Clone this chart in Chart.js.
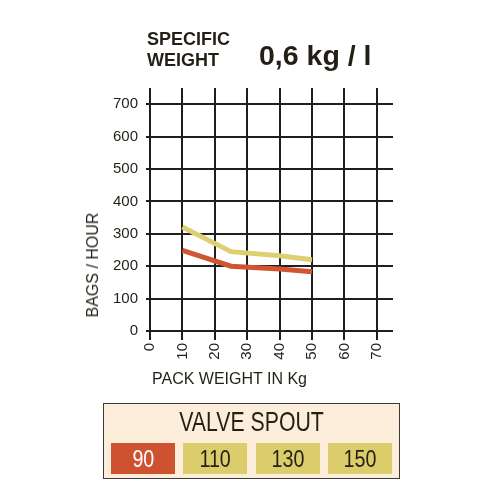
<!DOCTYPE html>
<html>
<head>
<meta charset="utf-8">
<script src="https://cdn.jsdelivr.net/npm/chart.js@4"></script>
<style>
  body { margin: 0; width: 500px; height: 500px; background: #fff; position: relative; overflow: hidden;
         font-family: "Liberation Sans", Arial, sans-serif; color: #231f16; }
  #myChart { position: absolute; left: 0; top: 0; }
  .abs { position: absolute; white-space: nowrap; }
  .spec { left: 147px; top: 29px; font-weight: bold; font-size: 18px; line-height: 20.6px; }
  .dens { left: 259px; top: 39px; font-weight: bold; font-size: 28.5px; line-height: normal; }
  .ytitle { left: 93px; top: 265px; font-size: 16px; transform: translate(-50%, -50%) rotate(-90deg); }
  .xtitle { left: 152px; top: 370px; font-size: 16px; }
  .legend { left: 103px; top: 403px; width: 295px; height: 74px; background: #fdeedc; border: 1.5px solid #3a3a3a; }
  .legend .head { position: absolute; left: 0; right: 0; top: 2px; text-align: center; font-size: 28px;
                  transform: scaleX(0.76); }
  .legend .box { position: absolute; top: 39px; width: 64px; height: 31px; text-align: center; line-height: 31px; }
  .legend .box span { display: inline-block; font-size: 24px; transform: scaleX(0.82); }
</style>
</head>
<body>
<canvas id="myChart" width="500" height="400"></canvas>
<div class="abs spec">SPECIFIC<br>WEIGHT</div>
<div class="abs dens">0,6 kg / l</div>
<div class="abs ytitle">BAGS / HOUR</div>
<div class="abs xtitle">PACK WEIGHT IN Kg</div>
<div class="abs legend" id="legend"><div class="head">VALVE SPOUT</div></div>
<script>
// pack weight (kg) and bags/hour
const packWeight = [10, 25, 40, 50];
const spout90 = [249, 200, 191, 183];
const spout110 = [321, 245, 232, 220];
const spoutLabels = ['90', '110', '130', '150'];
const spoutColors = ['#cf5230', '#dccd6c', '#dccd6c', '#dccd6c'];
const spoutText = ['#ffffff', '#231f16', '#231f16', '#231f16'];

const lineColor = { red: '#d05530', yellow: '#ddd070' };

function pts(ys) {
  return packWeight.map((x, i) => ({ x: x, y: ys[i] }));
}

// legend boxes
const legend = document.getElementById('legend');
const boxLeft = [7, 79, 152, 224];
spoutLabels.forEach((lab, i) => {
  const d = document.createElement('div');
  d.className = 'box';
  d.style.left = boxLeft[i] + 'px';
  d.style.background = spoutColors[i];
  d.style.color = spoutText[i];
  const s = document.createElement('span');
  s.textContent = lab;
  d.appendChild(s);
  legend.appendChild(d);
});

const gridColor = '#1e1e1e';
const tickFont = { family: 'Liberation Sans', size: 15 };

let myChart = document.getElementById('myChart').getContext('2d');
let spoutChart = new Chart(myChart, {
  type: 'line',
  data: {
    datasets: [
      { label: '110 / 130 / 150', data: pts(spout110), borderColor: lineColor.yellow, borderWidth: 5,
        pointRadius: 0, tension: 0, fill: false, borderCapStyle: 'butt' },
      { label: '90', data: pts(spout90), borderColor: lineColor.red, borderWidth: 5,
        pointRadius: 0, tension: 0, fill: false, borderCapStyle: 'butt' }
    ]
  },
  options: {
    responsive: false,
    animation: false,
    layout: { padding: { top: 88, right: 107, left: 0, bottom: 0 } },
    plugins: { legend: { display: false }, tooltip: { enabled: false } },
    scales: {
      x: {
        type: 'linear', min: 0, max: 75,
        border: { display: false },
        grid: { color: gridColor, lineWidth: 2, tickLength: 9, drawTicks: true },
        ticks: { stepSize: 10, includeBounds: false, minRotation: 90, maxRotation: 90, padding: 3,
                 color: '#231f16', font: tickFont },
        afterFit: (s) => { s.height = 69; }
      },
      y: {
        type: 'linear', min: 0, max: 750,
        border: { display: false },
        grid: { color: gridColor, lineWidth: 2, tickLength: 4 },
        ticks: { stepSize: 100, includeBounds: false, padding: 8, color: '#231f16', font: tickFont },
        afterFit: (s) => { s.width = 150; }
      }
    }
  }
});
</script>
</body>
</html>
